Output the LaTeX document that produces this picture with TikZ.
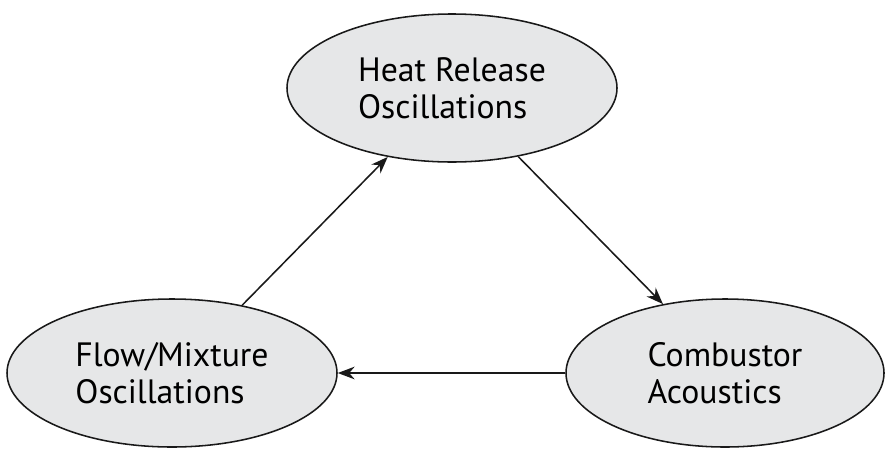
\documentclass[tikz,border=0pt]{standalone}
\usepackage{fontspec}
\setmainfont{PT Sans}
\usepackage{tikz}
\usetikzlibrary{arrows.meta, shapes}

\definecolor{bubblegray}{HTML}{E6E7E8}

\begin{document}
\begin{tikzpicture}[x=0.025cm, y=-0.025cm]
\useasboundingbox (0,0) rectangle (885,448);
\begin{scope}[every node/.style={ellipse, draw=black!90, line width=1.1pt,
              fill=bubblegray, minimum width=330*0.025cm, minimum height=148*0.025cm,
              align=left, font=\fontsize{24}{26}\selectfont, inner sep=0pt}]
    \node (heat) at (452,88) {Heat Release\\Oscillations};
    \node (flow) at (172,373) {Flow/Mixture\\Oscillations};
    \node[minimum width=318*0.025cm] (comb) at (725,373) {Combustor\\Acoustics};
\end{scope}

\begin{scope}[>={Stealth[length=12pt, width=9pt]},
              every edge/.style={draw=black!90, line width=1.1pt}]
    \path [->] (flow.44) edge (heat.227);
    \path [->] (heat.314) edge (comb.132);
    \path [->] (comb.west) edge (flow.east);
\end{scope}
\end{tikzpicture}
\end{document}
